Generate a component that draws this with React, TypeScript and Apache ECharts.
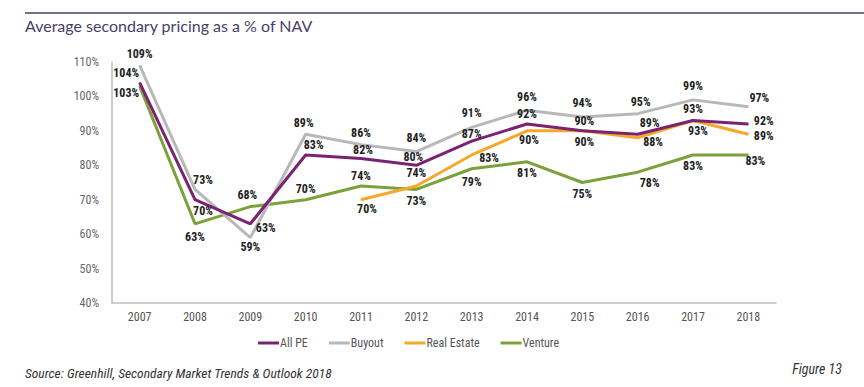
import React, { useEffect, useRef } from "react";
import * as echarts from "echarts";

const years = ["2007", "2008", "2009", "2010", "2011", "2012", "2013", "2014", "2015", "2016", "2017", "2018"];
const allPE = [104, 70, 63, 83, 82, 80, 87, 92, 90, 89, 93, 92];
const buyout = [109, 73, 59, 89, 86, 84, 91, 96, 94, 95, 99, 97];
const realEstate = [null, null, null, null, 70, 74, 83, 90, 90, 88, 93, 89];
const venture = [103, 63, 68, 70, 74, 73, 79, 81, 75, 78, 83, 83];
const seriesNames = ["All PE", "Buyout", "Real Estate", "Venture"];

// label placement per point: [position, dx, dy]
type LP = [string, number, number];
const placeAllPE: LP[] = [
  ["left", 5, -10], ["bottom", 8, 0], ["right", 0, 4], ["top", 8, 2], ["top", 2, 3], ["top", -3, 3],
  ["top", 0, 4], ["top", 0, 2], ["top", 2, 2], ["top", 12, 0], ["top", 0, 0], ["right", 0, -3],
];
const placeBuyout: LP[] = [
  ["top", 0, 0], ["top", 8, 2], ["bottom", 0, -2], ["top", -2, 0], ["top", 0, 0], ["top", 0, -2],
  ["top", 0, -3], ["top", 0, -2], ["top", 0, -3], ["top", 3, 0], ["top", 0, -2], ["top", 11, 3],
];
const placeRE: LP[] = [
  ["top", 0, 0], ["top", 0, 0], ["top", 0, 0], ["top", 0, 0], ["bottom", 6, -2], ["top", 0, -1],
  ["right", 2, 3], ["bottom", 2, -2], ["bottom", 2, 0], ["right", 0, 4], ["bottom", 5, -1], ["right", 0, 2],
];
const placeVenture: LP[] = [
  ["left", 5, 7], ["bottom", 0, 2], ["top", -3, 0], ["top", 0, 1], ["top", 0, 2], ["bottom", 0, 0],
  ["bottom", 0, 2], ["bottom", 0, 0], ["bottom", 0, 0], ["bottom", 12, -1], ["bottom", 0, 0], ["bottom", 7, -5],
];

const colors = ["#7b2270", "#b8b8ba", "#f5a82a", "#7ba23a"];
const NARROW = "'Roboto Condensed', 'Liberation Sans Narrow', 'DejaVu Sans Condensed', Roboto, sans-serif";

function buildData(vals: (number | null)[], place: LP[]) {
  return vals.map((v, i) => ({
    value: v,
    label: { position: place[i][0], offset: [place[i][1], place[i][2]] },
  }));
}

export default function App() {
  const ref = useRef<HTMLDivElement>(null);
  useEffect(() => {
    if (!ref.current) return;
    const chart = echarts.init(ref.current, null, { renderer: "svg" });
    const datasets = [
      buildData(allPE, placeAllPE),
      buildData(buyout, placeBuyout),
      buildData(realEstate, placeRE),
      buildData(venture, placeVenture),
    ];
    const order = [3, 2, 1, 0];
    chart.setOption({
      animation: false,
      backgroundColor: "#ffffff",
      graphic: [
        { type: "line", shape: { x1: 25, y1: 13, x2: 864, y2: 13 }, style: { stroke: "#4a3d6a", lineWidth: 1.5 } },
        {
          type: "text", left: 25, top: 17,
          style: { text: "Average secondary pricing as a % of NAV", fill: "#4a3d6a", font: "16px Lato, 'Open Sans', sans-serif" },
        },
        {
          type: "text", x: 25, y: 366,
          style: { text: "Source: Greenhill, Secondary Market Trends & Outlook 2018", fill: "#333", font: `italic 13.5px ${NARROW}` },
        },
        {
          type: "text", x: 842, y: 362,
          style: { text: "Figure 13", fill: "#333", align: "right", font: `italic 14px ${NARROW}` },
        },
      ],
      grid: { left: 112, right: 88, top: 62, bottom: 84 },
      legend: {
        left: 253, top: 332, itemGap: 21, itemWidth: 21, itemHeight: 3, icon: "rect",
        textStyle: { color: "#555", fontSize: 12, fontFamily: NARROW, padding: [0, 0, 0, -4] },
        data: seriesNames,
      },
      xAxis: {
        type: "category", data: years, boundaryGap: true,
        axisLine: { lineStyle: { color: "#bdbdbd", width: 1.5 } },
        axisTick: { show: false },
        axisLabel: { color: "#555", fontSize: 12, fontFamily: NARROW, margin: 8 },
      },
      yAxis: {
        type: "value", min: 40, max: 110, interval: 10,
        axisLine: { show: true, lineStyle: { color: "#bdbdbd", width: 1.5 } },
        axisTick: { show: false },
        splitLine: { show: false },
        axisLabel: { formatter: "{value}%", color: "#666", fontSize: 12, fontFamily: NARROW, margin: 13 },
      },
      series: order.map((k) => ({
        name: seriesNames[k], type: "line", data: datasets[k],
        color: colors[k],
        lineStyle: { width: 3, color: colors[k] },
        symbol: "circle", symbolSize: 1, showSymbol: true,
        itemStyle: { color: colors[k] },
        connectNulls: false,
        z: 2 + (3 - k),
        label: {
          show: true, formatter: "{c}%", color: "#222", fontSize: 12, fontWeight: "bold",
          fontFamily: NARROW, distance: 5,
        },
      })),
    });
    return () => chart.dispose();
  }, []);
  return <div ref={ref} style={{ position: "fixed", left: 0, top: 0, width: 864, height: 387 }} />;
}
